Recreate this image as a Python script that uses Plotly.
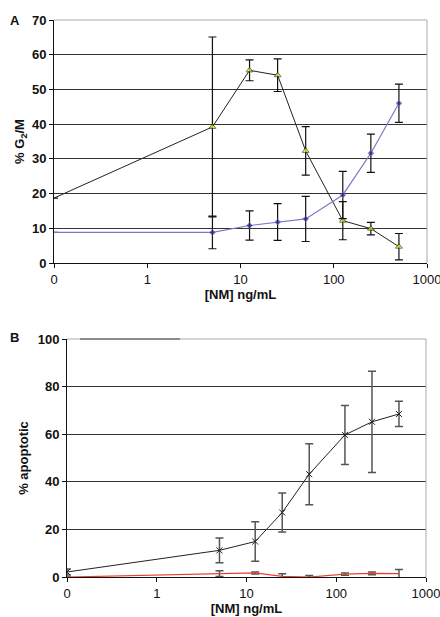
import plotly.graph_objects as go

# ---- data ----
conc = [0, 5, 12.5, 25, 50, 125, 250, 500]          # ng/mL
x_tickvals_lbl = ["0", "1", "10", "100", "1000"]

g2m_black = [18.7, 39.2, 55.5, 54.1, 32.3, 12.2, 9.9, 4.7]
g2m_black_err = [0, 25.9, 3.0, 4.7, 7.0, 5.5, 1.8, 3.8]
g2m_blue = [8.8, 8.8, 10.8, 11.8, 12.7, 19.6, 31.6, 46.0]
g2m_blue_err = [0, 4.7, 4.2, 5.3, 6.5, 6.8, 5.5, 5.5]

apo_black = [2.1, 11.2, 14.9, 27.1, 43.2, 59.7, 65.2, 68.5]
apo_black_err = [1.3, 5.2, 8.3, 8.2, 12.8, 12.4, 21.3, 5.3]
apo_red = [0, 1.4, 1.7, 0.3, 0, 1.2, 1.5, 1.4]
apo_red_err = [0, 1.2, 0.4, 1.1, 0.6, 0.5, 0.6, 1.7]

# "0" concentration is placed at the 0.1 position of the log axis
xp = [0.1 if c == 0 else c for c in conc]
tickvals = [0.1, 1, 10, 100, 1000]
sizes = [0] + [1] * (len(conc) - 1)

W, H = 440, 617
FONT = "Liberation Sans, Arial, sans-serif"


def px_x(a, b):
    return [a / W, b / W]


def px_y(top, bottom):
    return [1 - bottom / H, 1 - top / H]


fig = go.Figure()

# Panel A
fig.add_trace(go.Scatter(
    x=xp, y=g2m_black, mode="lines+markers", xaxis="x", yaxis="y",
    line=dict(color="#222222", width=1),
    marker=dict(symbol="triangle-up", size=[s * 6 for s in sizes], color="#ffff00",
                line=dict(color="#333333", width=1)),
    error_y=dict(type="data", array=g2m_black_err, color="#111111", thickness=1.2, width=4),
    showlegend=False))
fig.add_trace(go.Scatter(
    x=xp, y=g2m_blue, mode="lines+markers", xaxis="x", yaxis="y",
    line=dict(color="#7b78c8", width=1.2),
    marker=dict(symbol="diamond", size=[s * 4.5 for s in sizes], color="#1c1c80"),
    error_y=dict(type="data", array=g2m_blue_err, color="#111111", thickness=1.2, width=4),
    showlegend=False))

# Panel B
fig.add_trace(go.Scatter(
    x=xp, y=apo_red, mode="lines", xaxis="x2", yaxis="y2",
    line=dict(color="#e8402a", width=1.2),
    error_y=dict(type="data", array=apo_red_err, color="#555555", thickness=1.5, width=4),
    showlegend=False))
fig.add_trace(go.Scatter(
    x=xp, y=apo_black, mode="lines+markers", xaxis="x2", yaxis="y2",
    line=dict(color="#222222", width=1),
    marker=dict(symbol="x-thin", size=6, color="#222222",
                line=dict(color="#222222", width=1)),
    error_y=dict(type="data", array=apo_black_err, color="#555555", thickness=1.5, width=4),
    showlegend=False))

tickfont = dict(family=FONT, size=13, color="#111111")
titlefont = dict(family=FONT, size=13, color="#111111")

xcommon = dict(type="log", range=[-1, 3], tickvals=tickvals, ticktext=x_tickvals_lbl,
               showgrid=False, zeroline=False, showline=True, linecolor="#111111",
               linewidth=1, ticks="outside", ticklen=4, tickcolor="#111111",
               tickfont=tickfont, tickprefix="<b>", ticksuffix="</b>",
               automargin=False, ticklabeloverflow="allow")
ycommon = dict(showgrid=True, gridcolor="#333333", gridwidth=1, zeroline=False,
               showline=True, linecolor="#111111", linewidth=1, ticks="outside",
               ticklen=4, tickcolor="#111111", tickfont=tickfont,
               tickprefix="<b>", ticksuffix="</b>", automargin=False)

fig.update_layout(
    width=W, height=H, margin=dict(l=0, r=0, t=0, b=0),
    paper_bgcolor="white", plot_bgcolor="white",
    font=dict(family=FONT),
    xaxis=dict(xcommon, domain=px_x(54, 427), anchor="y",
               title=dict(text="<b>[NM] ng/mL</b>", font=titlefont, standoff=2)),
    yaxis=dict(ycommon, domain=px_y(20, 263), anchor="x", range=[0, 70], dtick=10,
               title=dict(text="<b>% G<sub>2</sub>/M</b>", font=titlefont, standoff=4)),
    xaxis2=dict(xcommon, domain=px_x(67, 426), anchor="y2",
                title=dict(text="<b>[NM] ng/mL</b>", font=titlefont, standoff=0)),
    yaxis2=dict(ycommon, domain=px_y(339, 577), anchor="x2", range=[0, 100], dtick=20,
                title=dict(text="<b>% apoptotic</b>", font=titlefont, standoff=6)),
    shapes=[
        dict(type="line", xref="x domain", yref="y domain", x0=0, x1=1, y0=1, y1=1,
             line=dict(color="#aaaaaa", width=1)),
        dict(type="line", xref="x domain", yref="y domain", x0=1, x1=1, y0=0, y1=1,
             line=dict(color="#aaaaaa", width=1)),
        dict(type="line", xref="x2 domain", yref="y2 domain", x0=0, x1=1, y0=1, y1=1,
             line=dict(color="#aaaaaa", width=1)),
        dict(type="line", xref="x2 domain", yref="y2 domain", x0=1, x1=1, y0=0, y1=1,
             line=dict(color="#aaaaaa", width=1)),
        dict(type="line", xref="paper", yref="y2 domain", x0=80 / W, x1=180 / W, y0=1, y1=1,
             line=dict(color="#444444", width=1)),
    ],
    annotations=[
        dict(text="<b>A</b>", x=15 / W, y=1 - 20 / H, xref="paper", yref="paper",
             showarrow=False, font=dict(family=FONT, size=13, color="#111111"),
             xanchor="center", yanchor="middle"),
        dict(text="<b>B</b>", x=15 / W, y=1 - 337 / H, xref="paper", yref="paper",
             showarrow=False, font=dict(family=FONT, size=13, color="#111111"),
             xanchor="center", yanchor="middle"),
    ],
)

fig.write_html("out.html", config={"displayModeBar": False},
               post_script="document.body.style.margin='0';document.body.style.overflow='hidden';")
